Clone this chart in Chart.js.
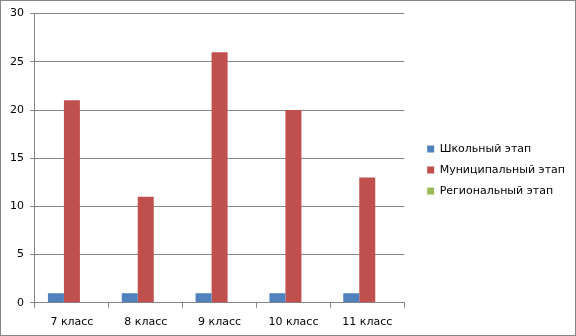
<!DOCTYPE html>
<html>
<head>
<meta charset="utf-8">
<script src="https://cdn.jsdelivr.net/npm/chart.js@4.4.0/dist/chart.umd.min.js"></script>
<style>
  html, body { margin: 0; padding: 0; background: #fff; }
  #box { width: 576px; height: 336px; box-sizing: border-box; border: 1px solid #868686; }
  canvas { display: block; }
</style>
</head>
<body>
<div id="box"><canvas id="c" width="574" height="334"></canvas></div>
<script>
const classes = ['7 класс','8 класс','9 класс','10 класс','11 класс']
const school = [1,1,1,1,1]
const municipal = [21,11,26,20,13]
const regional = [0,0,0,0,0]
const gridCol = '#868686'

Chart.defaults.font.family = 'DejaVu Sans'
Chart.defaults.font.size = 11
Chart.defaults.color = '#000'

// nudge the legend right so there is a wider gap between plot and legend
const legendGap = {
    id: 'legendGap',
    afterLayout(chart) {
        const lg = chart.legend
        lg.left += 13
        lg.right += 13
        lg.top -= 2
        lg.bottom -= 2
    }
}

new Chart(document.getElementById('c'), {
    type: 'bar',
    data: {
        labels: classes,
        datasets: [
            {label: 'Школьный этап', data: school, backgroundColor: '#4F81BD'},
            {label: 'Муниципальный этап', data: municipal, backgroundColor: '#C0504D'},
            {label: 'Региональный этап', data: regional, backgroundColor: '#9BBB59'}
        ]
    },
    options: {
        responsive: false,
        animation: false,
        datasets: {bar: {categoryPercentage: 0.65, barPercentage: 1}},
        layout: {padding: {top: 6, left: 3, right: 13, bottom: -2}},
        scales: {
            x: {
                grid: {display: true, drawOnChartArea: false, color: gridCol, tickLength: 5, offset: true},
                border: {color: gridCol},
                ticks: {padding: 8}
            },
            y: {
                min: 0, max: 30,
                ticks: {stepSize: 5, padding: 6},
                grid: {color: gridCol, tickLength: 5},
                border: {color: gridCol}
            }
        },
        plugins: {
            tooltip: {enabled: false},
            legend: {
                position: 'right',
                maxWidth: 200,
                labels: {boxWidth: 7, boxHeight: 7, padding: 10}
            }
        }
    },
    plugins: [legendGap]
})
</script>
</body>
</html>
